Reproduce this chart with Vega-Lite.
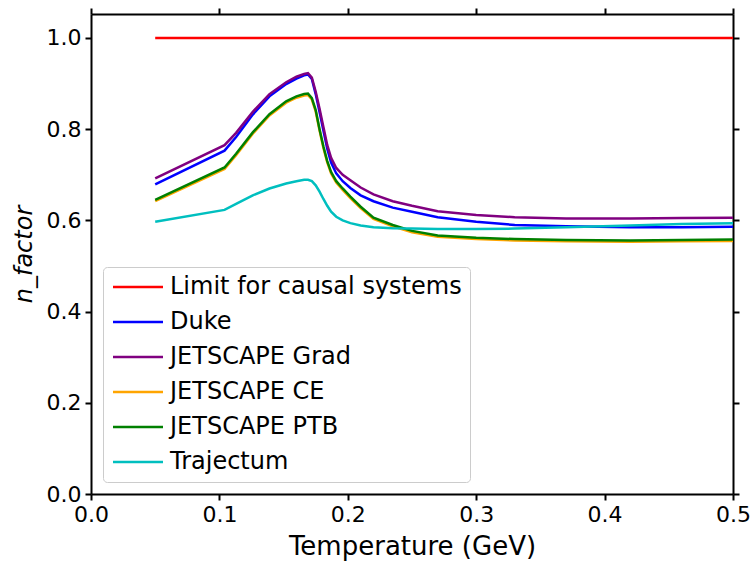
{
  "$schema": "https://vega.github.io/schema/vega-lite/v6.json",
  "width": 642,
  "height": 480,
  "autosize": {"type": "none"},
  "padding": {"left": 91, "top": 14, "right": 18, "bottom": 67},
  "background": "white",
  "config": {
    "font": "DejaVu Sans",
    "view": {"stroke": null},
    "axis": {
      "domainColor": "black", "domainWidth": 2, "tickColor": "black", "tickWidth": 2, "tickSize": 6,
      "labelFontSize": 22, "labelColor": "black", "labelFont": "DejaVu Sans", "labelPadding": 4,
      "labelFlush": false, "labelOverlap": false,
      "titleFontSize": 26, "titleFontWeight": "normal", "titleColor": "black", "titleFont": "DejaVu Sans",
      "grid": false
    }
  },
  "datasets": {
    "curves": [
      {"model": "Limit for causal systems", "T": 0.05, "n": 1.0},
      {"model": "Limit for causal systems", "T": 0.5, "n": 1.0},
      {"model": "Duke", "T": 0.05, "n": 0.679},
      {"model": "Duke", "T": 0.104, "n": 0.753},
      {"model": "Duke", "T": 0.113, "n": 0.783},
      {"model": "Duke", "T": 0.126, "n": 0.832},
      {"model": "Duke", "T": 0.139, "n": 0.872},
      {"model": "Duke", "T": 0.152, "n": 0.899},
      {"model": "Duke", "T": 0.16, "n": 0.911},
      {"model": "Duke", "T": 0.166, "n": 0.918},
      {"model": "Duke", "T": 0.169, "n": 0.92},
      {"model": "Duke", "T": 0.172, "n": 0.91},
      {"model": "Duke", "T": 0.175, "n": 0.877},
      {"model": "Duke", "T": 0.178, "n": 0.838},
      {"model": "Duke", "T": 0.181, "n": 0.797},
      {"model": "Duke", "T": 0.184, "n": 0.757},
      {"model": "Duke", "T": 0.187, "n": 0.727},
      {"model": "Duke", "T": 0.191, "n": 0.703},
      {"model": "Duke", "T": 0.196, "n": 0.686},
      {"model": "Duke", "T": 0.202, "n": 0.671},
      {"model": "Duke", "T": 0.21, "n": 0.655},
      {"model": "Duke", "T": 0.22, "n": 0.642},
      {"model": "Duke", "T": 0.235, "n": 0.628},
      {"model": "Duke", "T": 0.25, "n": 0.619},
      {"model": "Duke", "T": 0.27, "n": 0.607},
      {"model": "Duke", "T": 0.3, "n": 0.597},
      {"model": "Duke", "T": 0.33, "n": 0.59},
      {"model": "Duke", "T": 0.37, "n": 0.587},
      {"model": "Duke", "T": 0.42, "n": 0.585},
      {"model": "Duke", "T": 0.46, "n": 0.585},
      {"model": "Duke", "T": 0.5, "n": 0.586},
      {"model": "JETSCAPE Grad", "T": 0.05, "n": 0.692},
      {"model": "JETSCAPE Grad", "T": 0.104, "n": 0.765},
      {"model": "JETSCAPE Grad", "T": 0.113, "n": 0.792},
      {"model": "JETSCAPE Grad", "T": 0.126, "n": 0.838},
      {"model": "JETSCAPE Grad", "T": 0.139, "n": 0.877},
      {"model": "JETSCAPE Grad", "T": 0.152, "n": 0.903},
      {"model": "JETSCAPE Grad", "T": 0.16, "n": 0.915},
      {"model": "JETSCAPE Grad", "T": 0.166, "n": 0.921},
      {"model": "JETSCAPE Grad", "T": 0.169, "n": 0.923},
      {"model": "JETSCAPE Grad", "T": 0.172, "n": 0.913},
      {"model": "JETSCAPE Grad", "T": 0.175, "n": 0.882},
      {"model": "JETSCAPE Grad", "T": 0.178, "n": 0.845},
      {"model": "JETSCAPE Grad", "T": 0.181, "n": 0.805},
      {"model": "JETSCAPE Grad", "T": 0.184, "n": 0.765},
      {"model": "JETSCAPE Grad", "T": 0.187, "n": 0.737},
      {"model": "JETSCAPE Grad", "T": 0.191, "n": 0.715},
      {"model": "JETSCAPE Grad", "T": 0.196, "n": 0.7},
      {"model": "JETSCAPE Grad", "T": 0.202, "n": 0.688},
      {"model": "JETSCAPE Grad", "T": 0.21, "n": 0.672},
      {"model": "JETSCAPE Grad", "T": 0.22, "n": 0.657},
      {"model": "JETSCAPE Grad", "T": 0.235, "n": 0.642},
      {"model": "JETSCAPE Grad", "T": 0.25, "n": 0.632},
      {"model": "JETSCAPE Grad", "T": 0.27, "n": 0.62},
      {"model": "JETSCAPE Grad", "T": 0.3, "n": 0.612},
      {"model": "JETSCAPE Grad", "T": 0.33, "n": 0.607},
      {"model": "JETSCAPE Grad", "T": 0.37, "n": 0.604},
      {"model": "JETSCAPE Grad", "T": 0.42, "n": 0.604},
      {"model": "JETSCAPE Grad", "T": 0.46, "n": 0.605},
      {"model": "JETSCAPE Grad", "T": 0.5, "n": 0.606},
      {"model": "JETSCAPE CE", "T": 0.05, "n": 0.642},
      {"model": "JETSCAPE CE", "T": 0.104, "n": 0.713},
      {"model": "JETSCAPE CE", "T": 0.113, "n": 0.743},
      {"model": "JETSCAPE CE", "T": 0.126, "n": 0.79},
      {"model": "JETSCAPE CE", "T": 0.139, "n": 0.83},
      {"model": "JETSCAPE CE", "T": 0.152, "n": 0.858},
      {"model": "JETSCAPE CE", "T": 0.16, "n": 0.869},
      {"model": "JETSCAPE CE", "T": 0.166, "n": 0.874},
      {"model": "JETSCAPE CE", "T": 0.169, "n": 0.875},
      {"model": "JETSCAPE CE", "T": 0.172, "n": 0.865},
      {"model": "JETSCAPE CE", "T": 0.175, "n": 0.839},
      {"model": "JETSCAPE CE", "T": 0.178, "n": 0.797},
      {"model": "JETSCAPE CE", "T": 0.181, "n": 0.759},
      {"model": "JETSCAPE CE", "T": 0.184, "n": 0.727},
      {"model": "JETSCAPE CE", "T": 0.187, "n": 0.703},
      {"model": "JETSCAPE CE", "T": 0.191, "n": 0.683},
      {"model": "JETSCAPE CE", "T": 0.196, "n": 0.667},
      {"model": "JETSCAPE CE", "T": 0.202, "n": 0.649},
      {"model": "JETSCAPE CE", "T": 0.21, "n": 0.627},
      {"model": "JETSCAPE CE", "T": 0.22, "n": 0.603},
      {"model": "JETSCAPE CE", "T": 0.235, "n": 0.587},
      {"model": "JETSCAPE CE", "T": 0.25, "n": 0.574},
      {"model": "JETSCAPE CE", "T": 0.27, "n": 0.564},
      {"model": "JETSCAPE CE", "T": 0.3, "n": 0.559},
      {"model": "JETSCAPE CE", "T": 0.33, "n": 0.556},
      {"model": "JETSCAPE CE", "T": 0.37, "n": 0.554},
      {"model": "JETSCAPE CE", "T": 0.42, "n": 0.553},
      {"model": "JETSCAPE CE", "T": 0.46, "n": 0.554},
      {"model": "JETSCAPE CE", "T": 0.5, "n": 0.555},
      {"model": "JETSCAPE PTB", "T": 0.05, "n": 0.645},
      {"model": "JETSCAPE PTB", "T": 0.104, "n": 0.716},
      {"model": "JETSCAPE PTB", "T": 0.113, "n": 0.746},
      {"model": "JETSCAPE PTB", "T": 0.126, "n": 0.793},
      {"model": "JETSCAPE PTB", "T": 0.139, "n": 0.833},
      {"model": "JETSCAPE PTB", "T": 0.152, "n": 0.861},
      {"model": "JETSCAPE PTB", "T": 0.16, "n": 0.872},
      {"model": "JETSCAPE PTB", "T": 0.166, "n": 0.877},
      {"model": "JETSCAPE PTB", "T": 0.169, "n": 0.878},
      {"model": "JETSCAPE PTB", "T": 0.172, "n": 0.868},
      {"model": "JETSCAPE PTB", "T": 0.175, "n": 0.842},
      {"model": "JETSCAPE PTB", "T": 0.178, "n": 0.8},
      {"model": "JETSCAPE PTB", "T": 0.181, "n": 0.762},
      {"model": "JETSCAPE PTB", "T": 0.184, "n": 0.73},
      {"model": "JETSCAPE PTB", "T": 0.187, "n": 0.706},
      {"model": "JETSCAPE PTB", "T": 0.191, "n": 0.686},
      {"model": "JETSCAPE PTB", "T": 0.196, "n": 0.67},
      {"model": "JETSCAPE PTB", "T": 0.202, "n": 0.652},
      {"model": "JETSCAPE PTB", "T": 0.21, "n": 0.63},
      {"model": "JETSCAPE PTB", "T": 0.22, "n": 0.606},
      {"model": "JETSCAPE PTB", "T": 0.235, "n": 0.59},
      {"model": "JETSCAPE PTB", "T": 0.25, "n": 0.577},
      {"model": "JETSCAPE PTB", "T": 0.27, "n": 0.567},
      {"model": "JETSCAPE PTB", "T": 0.3, "n": 0.562},
      {"model": "JETSCAPE PTB", "T": 0.33, "n": 0.559},
      {"model": "JETSCAPE PTB", "T": 0.37, "n": 0.557},
      {"model": "JETSCAPE PTB", "T": 0.42, "n": 0.556},
      {"model": "JETSCAPE PTB", "T": 0.46, "n": 0.557},
      {"model": "JETSCAPE PTB", "T": 0.5, "n": 0.558},
      {"model": "Trajectum", "T": 0.05, "n": 0.597},
      {"model": "Trajectum", "T": 0.104, "n": 0.623},
      {"model": "Trajectum", "T": 0.113, "n": 0.636},
      {"model": "Trajectum", "T": 0.126, "n": 0.655},
      {"model": "Trajectum", "T": 0.139, "n": 0.67},
      {"model": "Trajectum", "T": 0.152, "n": 0.681},
      {"model": "Trajectum", "T": 0.16, "n": 0.686},
      {"model": "Trajectum", "T": 0.166, "n": 0.689},
      {"model": "Trajectum", "T": 0.169, "n": 0.689},
      {"model": "Trajectum", "T": 0.172, "n": 0.686},
      {"model": "Trajectum", "T": 0.175, "n": 0.677},
      {"model": "Trajectum", "T": 0.178, "n": 0.663},
      {"model": "Trajectum", "T": 0.181, "n": 0.647},
      {"model": "Trajectum", "T": 0.184, "n": 0.632},
      {"model": "Trajectum", "T": 0.187, "n": 0.619},
      {"model": "Trajectum", "T": 0.191, "n": 0.608},
      {"model": "Trajectum", "T": 0.196, "n": 0.6},
      {"model": "Trajectum", "T": 0.202, "n": 0.594},
      {"model": "Trajectum", "T": 0.21, "n": 0.589},
      {"model": "Trajectum", "T": 0.22, "n": 0.585},
      {"model": "Trajectum", "T": 0.235, "n": 0.583},
      {"model": "Trajectum", "T": 0.25, "n": 0.582},
      {"model": "Trajectum", "T": 0.27, "n": 0.581},
      {"model": "Trajectum", "T": 0.3, "n": 0.581},
      {"model": "Trajectum", "T": 0.33, "n": 0.582},
      {"model": "Trajectum", "T": 0.37, "n": 0.585},
      {"model": "Trajectum", "T": 0.42, "n": 0.589},
      {"model": "Trajectum", "T": 0.46, "n": 0.592},
      {"model": "Trajectum", "T": 0.5, "n": 0.594}
    ]
  },
  "data": {"name": "curves"},
  "layer": [
    {
      "mark": {"type": "line", "strokeWidth": 2.5, "clip": true},
      "encoding": {
        "x": {
          "field": "T", "type": "quantitative",
          "scale": {"domain": [0, 0.5], "nice": false, "zero": false},
          "axis": {"orient": "bottom", "title": "Temperature (GeV)", "values": [0, 0.1, 0.2, 0.3, 0.4, 0.5], "format": ".1f", "titlePadding": 8}
        },
        "y": {
          "field": "n", "type": "quantitative",
          "scale": {"domain": [0, 1.0526], "nice": false, "zero": false},
          "axis": {"orient": "left", "title": "n_factor", "titleFontStyle": "italic", "titleFontSize": 24, "values": [0, 0.2, 0.4, 0.6, 0.8, 1.0], "format": ".1f", "titlePadding": 10}
        },
        "color": {
          "field": "model", "type": "nominal",
          "scale": {
            "domain": ["Limit for causal systems", "Duke", "JETSCAPE Grad", "JETSCAPE CE", "JETSCAPE PTB", "Trajectum"],
            "range": ["#ff0000", "#0000ff", "#800080", "#ffa500", "#008000", "#00bfbf"]
          },
          "legend": {
            "title": null, "orient": "bottom-left", "offset": 12,
            "symbolType": "M-1,0L4,0", "symbolSize": 400, "symbolStrokeWidth": 2.5,
            "labelFontSize": 24, "labelFont": "DejaVu Sans", "labelColor": "black", "labelLimit": 500, "labelOffset": 35,
            "fillColor": "white", "strokeColor": "#cccccc", "cornerRadius": 4, "padding": 8, "rowPadding": 11
          }
        }
      }
    },
    {
      "mark": {"type": "point", "opacity": 0},
      "encoding": {
        "x": {
          "field": "T", "type": "quantitative",
          "scale": {"domain": [0, 0.5], "nice": false, "zero": false},
          "axis": {"orient": "top", "labels": false, "title": null, "values": [0, 0.1, 0.2, 0.3, 0.4, 0.5]}
        },
        "y": {
          "field": "n", "type": "quantitative",
          "scale": {"domain": [0, 1.0526], "nice": false, "zero": false},
          "axis": {"orient": "right", "labels": false, "title": null, "values": [0, 0.2, 0.4, 0.6, 0.8, 1.0]}
        }
      }
    }
  ],
  "resolve": {"axis": {"x": "independent", "y": "independent"}}
}
